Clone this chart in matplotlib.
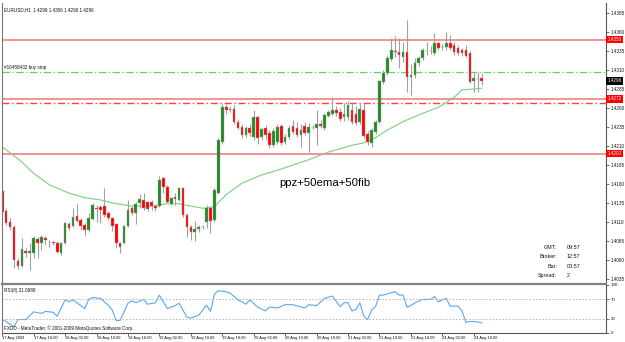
import numpy as np
import matplotlib
matplotlib.use("Agg")
import matplotlib.pyplot as plt

plt.rcParams["font.family"] = ["Liberation Sans", "DejaVu Sans"]

W, H = 625, 342

# EURUSD H1, 17 Aug 10:00 .. 24 Aug 12:00 (broker time)
opens = [1.4151, 1.4124, 1.4110, 1.4103, 1.4059, 1.4052, 1.4072, 1.4069, 1.4069, 1.4088,
         1.4082, 1.4089, 1.4084, 1.4084, 1.4082, 1.4069, 1.4082, 1.4107, 1.4105, 1.4118,
         1.4113, 1.4106, 1.4099, 1.4114, 1.4128, 1.4130, 1.4131, 1.4122, 1.4115, 1.4107,
         1.4082, 1.4082, 1.4105, 1.4128, 1.4122, 1.4135, 1.4139, 1.4136, 1.4136, 1.4131,
         1.4131, 1.4168, 1.4156, 1.4134, 1.4143, 1.4139, 1.4155, 1.4119, 1.4103, 1.4097,
         1.4101, 1.4103, 1.4110, 1.4128, 1.4113, 1.4148, 1.4215, 1.4261, 1.4257, 1.4259,
         1.4242, 1.4235, 1.4224, 1.4234, 1.4222, 1.4248, 1.4222, 1.4234, 1.4227, 1.4211,
         1.4215, 1.4236, 1.4215, 1.4222, 1.4236, 1.4234, 1.4224, 1.4236, 1.4227, 1.4235,
         1.4234, 1.4239, 1.4234, 1.4249, 1.4252, 1.4257, 1.4255, 1.4248, 1.4248, 1.4257,
         1.4252, 1.4242, 1.4257, 1.4226, 1.4214, 1.4228, 1.4242, 1.4294, 1.4306, 1.4325,
         1.4335, 1.4334, 1.4327, 1.4334, 1.4301, 1.4303, 1.4319, 1.4326, 1.4335, 1.4335,
         1.4332, 1.4346, 1.4340, 1.4340, 1.4346, 1.4343, 1.4339, 1.4336, 1.4336, 1.4332,
         1.4296, 1.4298, 1.4299]
highs = [1.4155, 1.4128, 1.4115, 1.4106, 1.4063, 1.4089, 1.4076, 1.4082, 1.4092, 1.4090,
         1.4093, 1.4092, 1.4086, 1.4085, 1.4085, 1.4084, 1.4110, 1.4110, 1.4128, 1.4134,
         1.4115, 1.4109, 1.4122, 1.4135, 1.4132, 1.4132, 1.4155, 1.4124, 1.4117, 1.4109,
         1.4084, 1.4106, 1.4139, 1.4131, 1.4136, 1.4147, 1.4148, 1.4138, 1.4139, 1.4132,
         1.4171, 1.4169, 1.4159, 1.4143, 1.4148, 1.4156, 1.4156, 1.4122, 1.4106, 1.4111,
         1.4106, 1.4106, 1.4132, 1.4130, 1.4155, 1.4221, 1.4265, 1.4265, 1.4263, 1.4264,
         1.4246, 1.4239, 1.4236, 1.4239, 1.4257, 1.4249, 1.4234, 1.4238, 1.4231, 1.4234,
         1.4239, 1.4239, 1.4226, 1.4238, 1.4244, 1.4242, 1.4239, 1.4242, 1.4240, 1.4238,
         1.4257, 1.4244, 1.4253, 1.4257, 1.4274, 1.4263, 1.4260, 1.4267, 1.4269, 1.4268,
         1.4263, 1.4267, 1.4267, 1.4230, 1.4234, 1.4244, 1.4297, 1.4310, 1.4330, 1.4352,
         1.4355, 1.4352, 1.4347, 1.4376, 1.4318, 1.4326, 1.4328, 1.4339, 1.4347, 1.4342,
         1.4359, 1.4347, 1.4344, 1.4360, 1.4356, 1.4347, 1.4343, 1.4339, 1.4343, 1.4335,
         1.4307, 1.4307, 1.4306]
lows = [1.4114, 1.4106, 1.4099, 1.4049, 1.4048, 1.4051, 1.4064, 1.4047, 1.4063, 1.4063,
        1.4073, 1.4080, 1.4077, 1.4080, 1.4069, 1.4067, 1.4081, 1.4099, 1.4103, 1.4110,
        1.4099, 1.4093, 1.4097, 1.4113, 1.4110, 1.4109, 1.4117, 1.4113, 1.4098, 1.4076,
        1.4069, 1.4081, 1.4103, 1.4119, 1.4107, 1.4128, 1.4126, 1.4124, 1.4126, 1.4124,
        1.4130, 1.4148, 1.4135, 1.4132, 1.4132, 1.4138, 1.4117, 1.4090, 1.4086, 1.4085,
        1.4097, 1.4101, 1.4102, 1.4096, 1.4110, 1.4147, 1.4213, 1.4252, 1.4255, 1.4239,
        1.4232, 1.4221, 1.4222, 1.4223, 1.4218, 1.4213, 1.4218, 1.4218, 1.4207, 1.4209,
        1.4213, 1.4211, 1.4213, 1.4219, 1.4226, 1.4222, 1.4209, 1.4224, 1.4202, 1.4232,
        1.4211, 1.4234, 1.4231, 1.4248, 1.4251, 1.4249, 1.4243, 1.4243, 1.4244, 1.4239,
        1.4238, 1.4239, 1.4221, 1.4211, 1.4209, 1.4226, 1.4240, 1.4292, 1.4303, 1.4322,
        1.4327, 1.4313, 1.4321, 1.4281, 1.4277, 1.4299, 1.4315, 1.4323, 1.4330, 1.4331,
        1.4330, 1.4336, 1.4336, 1.4336, 1.4336, 1.4330, 1.4330, 1.4328, 1.4327, 1.4293,
        1.4281, 1.4281, 1.4290]
closes = [1.4123, 1.4109, 1.4103, 1.4060, 1.4052, 1.4074, 1.4069, 1.4072, 1.4089, 1.4082,
          1.4090, 1.4086, 1.4083, 1.4082, 1.4071, 1.4082, 1.4109, 1.4102, 1.4117, 1.4111,
          1.4105, 1.4099, 1.4115, 1.4132, 1.4127, 1.4126, 1.4119, 1.4115, 1.4105, 1.4082,
          1.4077, 1.4105, 1.4126, 1.4122, 1.4134, 1.4140, 1.4128, 1.4127, 1.4131, 1.4128,
          1.4165, 1.4156, 1.4136, 1.4142, 1.4140, 1.4155, 1.4119, 1.4103, 1.4097, 1.4101,
          1.4103, 1.4103, 1.4128, 1.4111, 1.4152, 1.4218, 1.4261, 1.4257, 1.4259, 1.4242,
          1.4234, 1.4224, 1.4234, 1.4227, 1.4248, 1.4221, 1.4232, 1.4224, 1.4211, 1.4230,
          1.4235, 1.4214, 1.4222, 1.4234, 1.4228, 1.4224, 1.4231, 1.4227, 1.4235, 1.4235,
          1.4239, 1.4236, 1.4251, 1.4255, 1.4257, 1.4253, 1.4246, 1.4252, 1.4264, 1.4242,
          1.4240, 1.4259, 1.4223, 1.4215, 1.4231, 1.4242, 1.4296, 1.4306, 1.4326, 1.4336,
          1.4334, 1.4330, 1.4334, 1.4301, 1.4303, 1.4319, 1.4326, 1.4336, 1.4335, 1.4335,
          1.4346, 1.4339, 1.4340, 1.4346, 1.4339, 1.4334, 1.4332, 1.4332, 1.4328, 1.4294,
          1.4299, 1.4298, 1.4296]

# 50 EMA, read at a few bars
ema_idx = [0, 2, 5, 8, 12, 17, 21, 25, 29, 33, 38, 42, 45, 51, 54, 57, 61, 66, 70, 74,
           78, 83, 85, 89, 92, 95, 98, 102, 106, 111, 115, 117, 120, 122]
ema_val = [1.4209, 1.4201, 1.4189, 1.4174, 1.4159, 1.4148, 1.4142, 1.4139, 1.4134, 1.4131,
           1.4131, 1.4134, 1.4134, 1.4128, 1.4130, 1.4146, 1.4161, 1.4172, 1.4178, 1.4185,
           1.4192, 1.4202, 1.4205, 1.4211, 1.4214, 1.4221, 1.4231, 1.4242, 1.4251, 1.4261,
           1.4274, 1.4284, 1.4285, 1.4286]

# RSI(8)
rsi_idx = [0, 1, 3, 4, 6, 8, 10, 11, 13, 14, 16, 17, 18, 21, 22, 23, 25, 27, 28, 29,
           30, 32, 33, 34, 36, 37, 39, 40, 42, 43, 44, 45, 47, 48, 50, 52, 53, 54, 55, 57,
           58, 60, 61, 62, 63, 65, 67, 68, 70, 72, 74, 77, 78, 80, 82, 84, 86, 87, 88, 89,
           90, 91, 92, 93, 94, 95, 96, 97, 99, 100, 101, 102, 103, 104, 105, 107, 109, 110, 111, 112,
           113, 114, 116, 117, 118, 119, 120, 121, 122]
rsi_val = [28, 24, 13, 28, 28, 44, 41, 45, 43, 35, 69, 65, 69, 51, 70, 74, 72, 58, 48, 26,
           26, 62, 67, 63, 70, 60, 63, 79, 51, 54, 57, 62, 33, 31, 37, 58, 45, 81, 88, 86,
           83, 69, 65, 60, 69, 54, 46, 54, 52, 59, 59, 52, 59, 57, 72, 77, 55, 63, 63, 46,
           49, 63, 35, 28, 48, 55, 79, 79, 84, 86, 79, 79, 54, 57, 63, 70, 70, 76, 65, 69,
           72, 56, 56, 46, 22, 24, 24, 23, 21]

price_ticks = [1.4385, 1.4360, 1.4335, 1.4310, 1.4285, 1.4260, 1.4235, 1.4210, 1.4185,
               1.4160, 1.4135, 1.4110, 1.4085, 1.4060, 1.4035]
time_labels = ["17 Aug 2009", "17 Aug 18:00", "18 Aug 02:00", "18 Aug 10:00", "18 Aug 18:00",
               "19 Aug 02:00", "19 Aug 10:00", "19 Aug 18:00", "20 Aug 02:00", "20 Aug 10:00",
               "20 Aug 18:00", "21 Aug 02:00", "21 Aug 10:00", "21 Aug 18:00", "24 Aug 02:00",
               "24 Aug 10:00"]

red_lines = [1.4350, 1.4272, 1.4200]
red_dashdot = 1.4267
buy_stop = 1.4308
bid = 1.4296
info_keys = ["GMT:", "Broker:", "Bar:", "Spread:"]
info_vals = ["09:57", "12:57", "00:57", "2"]

UP = "#1f8a1f"
DOWN = "#ff0000"
WICK = "#a0a0a0"
PX_PER_BAR = 3.93
SMALL = 3.3
TXT = "#111111"


def frac_box(x0, y0, x1, y1):
    return [x0 / W, 1 - y1 / H, (x1 - x0) / W, (y1 - y0) / H]


fig = plt.figure(figsize=(W / 100, H / 100), dpi=100)
fig.patch.set_facecolor("white")

ax = fig.add_axes(frac_box(2, 3, 606, 282))
rx = fig.add_axes(frac_box(2, 285, 606, 333), sharex=ax)

n = len(opens)
idx = np.arange(n)
o = np.array(opens)
c = np.array(closes)
left_bar = -0.05
right_bar = left_bar + 604 / PX_PER_BAR

# candles
ax.vlines(idx, lows, highs, color=WICK, lw=0.8, zorder=2)
up = c >= o
body = np.maximum(np.abs(c - o), 0.00006)
ax.bar(idx[up], body[up], bottom=o[up], width=0.68, color=UP,
       edgecolor=WICK, linewidth=0.3, zorder=3)
ax.bar(idx[~up], body[~up], bottom=c[~up], width=0.68, color=DOWN,
       edgecolor=WICK, linewidth=0.3, zorder=3)

ax.plot(ema_idx, ema_val, color="#7ccf7c", lw=0.8, zorder=2)

for lv in red_lines:
    ax.axhline(lv, color="#f08080", lw=1.2, zorder=1)
ax.axhline(red_dashdot, color="#ff4040", lw=1.0, ls=(0, (5, 2, 1, 2)), zorder=1)
ax.axhline(buy_stop, color="#5cd65c", lw=0.9, ls=(0, (6, 2, 1, 2)), zorder=1)

ax.set_xlim(left_bar, right_bar)
ax.set_ylim(1.40310, 1.43982)

ax.yaxis.tick_right()
ax.set_yticks(price_ticks)
ax.set_yticklabels([f"{t:.4f}" for t in price_ticks])
ax.tick_params(axis="y", length=2, width=0.5, pad=1.2, labelsize=3.3,
               colors="#333333", labelcolor=TXT)
ax.tick_params(axis="x", bottom=False, labelbottom=False)
for s in ["top", "bottom", "left"]:
    ax.spines[s].set_visible(False)
ax.spines["right"].set_color("#555555")
ax.spines["right"].set_linewidth(0.8)

# coloured price tags on the right scale
tag_x = 1.003
for lv in red_lines:
    ax.text(tag_x, lv, f"{lv:.4f}", transform=ax.get_yaxis_transform(), fontsize=3.3,
            color="white", va="center", ha="left", zorder=5,
            bbox=dict(boxstyle="square,pad=0.3", fc="#ff0000", ec="none"))
ax.text(tag_x, bid, f"{bid:.4f}", transform=ax.get_yaxis_transform(), fontsize=3.3,
        color="white", va="center", ha="left", zorder=5,
        bbox=dict(boxstyle="square,pad=0.3", fc="black", ec="none"))

ax.text(0.003, 0.985, f"EURUSD,H1  {opens[-1]:.4f} {highs[-1]:.4f} {lows[-1]:.4f} {closes[-1]:.4f}",
        transform=ax.transAxes, fontsize=SMALL, va="top", ha="left", color=TXT)
ax.text(0.003, buy_stop + 0.0002, "#16458432 buy stop", transform=ax.get_yaxis_transform(),
        fontsize=SMALL, va="bottom", ha="left", color=TXT)
ax.text(0.535, 0.355, "ppz+50ema+50fib", transform=ax.transAxes, fontsize=8.2,
        ha="center", va="center", color="black")

for k, (key, val) in enumerate(zip(info_keys, info_vals)):
    yy = 0.125 - k * 0.034
    ax.text(0.919, yy, key, transform=ax.transAxes, fontsize=3.9, ha="right",
            va="center", color=TXT)
    ax.text(0.935, yy, val, transform=ax.transAxes, fontsize=3.9, ha="left",
            va="center", color=TXT)

# RSI window
rx.plot(rsi_idx, rsi_val, color="#5aa7f5", lw=0.8)
for lv in (70, 30):
    rx.axhline(lv, color="#b0b0b0", lw=0.6, ls=(0, (2, 2)))
rx.set_ylim(0, 100)
rx.yaxis.tick_right()
rx.set_yticks([100, 70, 30, 0])
rx.set_yticklabels(["100", "70", "30", "0"])
rx.tick_params(axis="y", length=2, width=0.5, pad=1.2, labelsize=3.2, colors="#333333",
               labelcolor=TXT)
rx.set_xticks(np.arange(len(time_labels)) * 8)
rx.set_xticklabels(time_labels)
rx.tick_params(axis="x", length=2, width=0.5, pad=0.5, labelsize=2.9, colors="#333333",
               labelcolor=TXT)
for lab in rx.get_xticklabels():
    lab.set_horizontalalignment("left")
for s in ["top", "left"]:
    rx.spines[s].set_visible(False)
for s in ["right", "bottom"]:
    rx.spines[s].set_color("#555555")
    rx.spines[s].set_linewidth(0.8)
rx.text(0.003, 0.93, f"RSI(8) {21.0988:.4f}", transform=rx.transAxes, fontsize=SMALL,
        va="top", ha="left", color=TXT)
rx.text(0.003, 0.05, "FXDD - MetaTrader, \u00a9 2001-2009 MetaQuotes Software Corp.",
        transform=rx.transAxes, fontsize=SMALL, va="bottom", ha="left", color=TXT)

# window frame: left edge and the splitter between the two windows
fig.add_artist(plt.Line2D([2 / W, 2 / W], [1 - 333 / H, 1 - 3 / H], color="#777777", lw=0.8))
fig.add_artist(plt.Line2D([2 / W, 606 / W], [1 - 283.5 / H] * 2, color="#808080", lw=1.6))

fig.savefig("out.png", dpi=100)
